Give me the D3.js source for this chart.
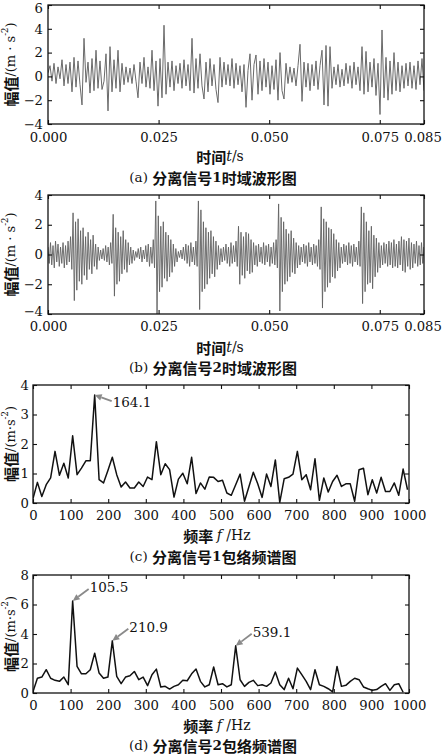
<!DOCTYPE html>
<html><head><meta charset="utf-8">
<script src="https://cdn.jsdelivr.net/npm/d3@7"></script>
<style>body{margin:0;background:#fff;} svg{display:block;}</style>
</head><body><svg id="c" width="442" height="756"></svg>
<script>
// ---------- data ----------
const signal1 = [
 0.3, 0.9, -0.4, 1.1, -0.6, 0.8, -0.2, 1.4, -0.8, 1.0,
 -0.6, 1.2, -1.3, 1.6, -0.9, 1.3, -0.7, -2.4, 3.2, -0.5,
 1.2, -1.4, 1.5, -1.2, 2.2, -1.0, 1.3, -1.1, -0.4, 1.9,
 -2.9, 2.5, -1.3, 1.4, -1.0, 2.2, -1.3, 1.1, -0.7, 0.8,
 -0.5, 0.7, -0.6, 1.0, -0.4, -1.8, 1.2, -0.6, 1.6, -0.9,
 0.8, -1.0, 2.2, -1.2, 1.3, -2.5, 1.5, -1.8, 4.3, -1.5,
 1.2, -0.9, 1.3, -1.2, 0.9, -0.6, 1.1, -1.0, 1.4, -0.8,
 1.0, -1.2, 3.2, -1.4, 1.5, -1.0, 1.9, -0.8, -1.9, 1.2,
 -1.3, 1.5, -0.8, 1.0, -1.1, -2.2, 1.6, -0.9, 1.2, -0.7,
 1.0, -0.8, 1.5, -1.0, 1.1, -0.7, 0.9, -1.3, 1.0, -2.6,
 0.5, 1.9, -2.0, 1.0, 1.8, -1.5, 1.3, -1.2, 1.5, -0.9,
 1.2, -1.5, 0.9, -1.1, 1.4, -2.0, 2.0, -1.2, -1.9, 1.1,
 -0.6, 0.8, -0.5, 0.7, -0.8, 0.9, 2.7, -2.1, 1.2, -0.9,
 1.1, -1.2, 1.0, -0.8, 1.3, -1.1, 0.9, 2.2, -2.4, 2.6,
 -2.5, 2.5, -1.0, 0.8, -0.7, 1.0, -0.9, 0.6, -0.8, 1.1,
 -0.6, 0.9, -1.0, 1.2, -0.7, 0.8, -1.2, 2.5, -1.5, 2.1,
 -1.3, 1.2, -0.9, 1.5, -1.6, 1.1, -3.2, 3.9, -1.8, 1.6,
 -2.0, 1.3, -1.5, 2.0, -1.2, 1.2, -1.3, 0.9, -1.0, 1.1,
 -0.8, 1.2, -1.0, 0.9, -1.1, 1.3, -0.7, 1.5, -1.2
];
// signal 2: successive positive / negative swings
const signal2Up = [
 0.5,0.8,0.6,0.9,0.7,0.5,0.8,0.6,0.9,1.2,
 2.8,2.2,2.4,1.6,1.8,1.2,1.5,1.0,1.3,0.7,
 0.5,0.3,0.4,0.6,0.5,0.8,2.7,1.8,1.5,1.2,
 1.6,1.0,0.8,0.5,0.3,0.2,0.4,0.5,0.3,0.6,
 0.7,0.5,1.0,3.6,2.6,1.9,2.2,1.5,1.3,1.0,
 0.7,0.4,0.2,0.3,0.5,0.7,0.6,0.8,0.5,0.9,
 3.6,3.0,2.2,1.8,1.5,1.6,1.2,0.9,0.6,0.4,
 0.5,0.7,0.5,0.8,0.6,0.9,1.9,1.5,1.2,1.5,
 1.4,1.0,0.8,0.6,0.7,0.5,0.8,0.6,0.7,0.5,
 0.8,1.0,3.4,2.5,2.2,1.7,1.4,1.6,1.1,0.8,
 0.6,0.5,0.7,0.6,0.8,0.5,0.7,0.6,1.0,3.2,
 2.4,2.2,1.8,1.7,1.4,1.0,0.8,0.5,0.7,0.6,
 0.8,0.6,0.7,0.5,0.9,3.2,2.8,2.2,1.6,1.9,
 1.3,1.1,0.8,0.6,0.8,0.7,0.9,0.8,1.0,0.7,
 0.9,1.2,1.0,0.9,1.1,0.8,0.7,0.9,0.6,0.8,
 0.5
];
const signal2Down = [
 -0.6,-0.7,-0.9,-0.5,-0.8,-0.6,-0.9,-0.7,-0.5,-1.0,
 -3.1,-2.4,-1.8,-2.0,-1.4,-1.7,-1.0,-1.3,-0.8,-1.0,
 -0.4,-0.3,-0.4,-0.5,-0.7,-0.6,-2.8,-2.0,-1.8,-1.3,
 -1.0,-1.2,-0.7,-0.6,-0.4,-0.2,-0.3,-0.5,-0.3,-0.5,
 -0.8,-0.6,-0.9,-4.0,-2.5,-2.2,-1.6,-1.8,-1.5,-1.2,
 -0.8,-0.5,-0.2,-0.3,-0.4,-0.6,-0.8,-0.5,-0.7,-0.8,
 -3.7,-2.5,-2.3,-2.0,-1.6,-1.3,-1.5,-1.0,-0.7,-0.5,
 -0.4,-0.6,-0.8,-0.6,-0.5,-0.8,-2.0,-1.4,-1.6,-1.1,
 -1.3,-1.2,-0.7,-0.8,-0.5,-0.6,-0.7,-0.5,-0.8,-0.6,
 -0.7,-0.9,-3.8,-2.5,-2.0,-1.8,-1.5,-1.2,-1.3,-0.9,
 -0.7,-0.5,-0.6,-0.8,-0.5,-0.7,-0.6,-0.8,-1.0,-3.6,
 -2.5,-2.2,-1.9,-1.5,-1.6,-1.1,-0.9,-0.6,-0.5,-0.7,
 -0.6,-0.8,-0.5,-0.7,-0.8,-3.3,-2.5,-2.0,-1.9,-2.3,
 -1.5,-1.2,-0.9,-0.7,-0.6,-0.8,-0.7,-0.9,-0.8,-0.9,
 -0.7,-1.1,-1.2,-0.8,-1.0,-0.9,-0.6,-0.8,-0.7,-0.6,
 -0.5
];
const spectrum1 = [
 0.15,0.7,0.22,0.62,0.85,1.75,0.94,1.35,0.85,2.28,
 0.96,1.18,1.43,1.43,3.66,0.79,0.68,1.1,1.55,0.96,
 0.54,0.71,0.51,0.51,0.71,0.56,0.88,0.79,2.08,0.96,
 1.33,1.13,0.2,0.81,1.01,0.65,1.55,0.32,0.68,0.47,
 0.88,0.87,0.73,0.77,0.34,0.26,0.62,0.98,0.06,0.55,
 1.04,0.65,0.19,0.98,0.56,1.46,0.02,0.82,0.87,0.98,
 1.75,0.79,0.96,0.45,1.5,0.09,0.85,0.37,0.73,0.94,
 0.56,0.65,0.65,0.06,1.13,1.18,0.28,0.79,0.34,0.87,
 0.39,0.39,0.68,0.26,1.15,0.45
];
const spectrum2 = [
 0.1,1.0,1.08,1.58,1.0,0.86,0.79,1.08,0.56,6.24,
 1.8,1.3,1.3,1.58,2.7,1.35,1.0,1.08,3.54,1.13,
 0.63,1.08,1.17,1.46,0.9,1.08,0.5,1.24,1.62,0.41,
 0.45,0.27,0.45,0.56,0.86,0.83,1.3,1.62,0.79,0.41,
 0.56,1.76,0.56,0.63,0.41,0.56,3.2,0.9,0.45,0.72,
 0.86,0.5,0.56,0.45,0.68,1.42,0.56,0.23,1.0,0.29,
 1.69,1.24,0.79,0.23,1.58,0.56,0.45,0.29,0.07,1.8,
 0.45,0.52,0.79,1.0,0.9,0.41,0.29,0.18,0.23,0.45,
 0.63,0.18,0.56,0.63,0.05
];
const freqStep = 11.71875;           // Hz per spectral line
const timeSpan = 0.085;               // s
const timeTicks = [0, 0.025, 0.05, 0.075, 0.085];
const timeTickLabels = ["0.000", "0.025", "0.050", "0.075", "0.085"];
const freqTicks = [0,100,200,300,400,500,600,700,800,900,1000];
const yTicksA = [-4,-2,0,2,4,6];
const yTicksB = [-4,-2,0,2,4];
const yTicksC = [0,1,2,3,4];
const yTicksD = [0,2,4,6,8];
const annotC = [{k:14, label:"164.1"}];
const annotD = [{k:9, label:"105.5"}, {k:18, label:"210.9"}, {k:46, label:"539.1"}];
const captions = ["(a) 分离信号1时域波形图", "(b) 分离信号2时域波形图", "(c) 分离信号1包络频谱图", "(d) 分离信号2包络频谱图"];

// ---------- drawing ----------
const svg = d3.select("#c");
const SERIF = "'DejaVu Serif', 'Liberation Serif', serif";
const CJK = "'Noto Sans CJK SC', sans-serif";
const NUM_SIZE = 13.2;
const fmtMinus = v => (v < 0 ? "−" + Math.abs(v) : String(v));

function panel(cfg, idx) {
  const {x0, x1, y0, y1} = cfg;
  const x = d3.scaleLinear().domain(cfg.xDomain).range([x0, x1]);
  const y = d3.scaleLinear().domain(cfg.yDomain).range([y1, y0]);
  const g = svg.append("g");
  const clipId = "clip" + idx;
  g.append("clipPath").attr("id", clipId).append("rect")
    .attr("x", x0).attr("y", y0).attr("width", x1 - x0).attr("height", y1 - y0);

  // series
  const line = d3.line().x(d => x(d[0])).y(d => y(d[1]));
  g.append("path").datum(cfg.points).attr("clip-path", `url(#${clipId})`)
    .attr("fill", "none").attr("stroke", cfg.color).attr("stroke-width", cfg.width)
    .attr("stroke-linejoin", "round").attr("d", line);

  // axes
  const tk = 4;
  const styleAxis = (sel) => {
    sel.select(".domain").remove();
    sel.selectAll(".tick line").attr("stroke", "#111").attr("stroke-width", 1.1);
    sel.selectAll("text").attr("font-family", SERIF).attr("font-size", NUM_SIZE).attr("fill", "#111");
  };
  const bx = g.append("g").attr("transform", `translate(0,${y1})`)
    .call(d3.axisBottom(x).tickValues(cfg.xTicks).tickSize(-tk).tickPadding(cfg.xPad)
      .tickFormat((d, i) => cfg.xLabels[i])).call(styleAxis);
  if (cfg.lastLabelDx) {
    bx.selectAll(".tick text").filter((d, i, n) => i === n.length - 1).attr("dx", cfg.lastLabelDx);
  }
  g.append("g").attr("transform", `translate(0,${y0})`)
    .call(d3.axisTop(x).tickValues(cfg.xTicks).tickSize(-tk).tickFormat("")).call(styleAxis);
  const ly = g.append("g").attr("transform", `translate(${x0},0)`)
    .call(d3.axisLeft(y).tickValues(cfg.yTicks).tickSize(-tk).tickPadding(cfg.yPad)
      .tickFormat(fmtMinus)).call(styleAxis);
  if (cfg.topLabelDy) {
    ly.selectAll(".tick text").filter(d => d === cfg.yDomain[1]).attr("dy", cfg.topLabelDy);
  }
  if (cfg.bottomLabelDy) {
    ly.selectAll(".tick text").filter(d => d === cfg.yDomain[0]).attr("dy", cfg.bottomLabelDy);
  }
  g.append("g").attr("transform", `translate(${x1},0)`)
    .call(d3.axisRight(y).tickValues(cfg.yTicks).tickSize(-tk).tickFormat("")).call(styleAxis);

  g.append("rect").attr("x", x0).attr("y", y0).attr("width", x1 - x0).attr("height", y1 - y0)
    .attr("fill", "none").attr("stroke", "#111").attr("stroke-width", 1.3);

  // y label
  const yl = g.append("text")
    .attr("transform", `translate(${cfg.yLabelX},${(y0 + y1) / 2}) rotate(-90)`)
    .attr("text-anchor", "middle").attr("dominant-baseline", "central").attr("fill", "#111");
  yl.append("tspan").attr("font-family", CJK).attr("font-size", 15).attr("font-weight", 700).text("幅值");
  yl.append("tspan").attr("font-family", SERIF).attr("font-size", 13).text(cfg.unitText);
  yl.append("tspan").attr("font-family", SERIF).attr("font-size", 8.5).attr("dy", -5).text("-2");
  yl.append("tspan").attr("font-family", SERIF).attr("font-size", 13).attr("dy", 5).text(")");

  // x title
  const xt = g.append("text").attr("x", (x0 + x1) / 2 + cfg.xTitleShift).attr("y", cfg.xTitleY)
    .attr("text-anchor", "middle").attr("dominant-baseline", "central").attr("fill", "#111");
  xt.append("tspan").attr("font-family", CJK).attr("font-size", 15).attr("font-weight", 700).text(cfg.xTitle[0]);
  xt.append("tspan").attr("font-family", SERIF).attr("font-size", 14).attr("font-style", "italic").text(cfg.xTitle[1]);
  xt.append("tspan").attr("font-family", SERIF).attr("font-size", 14).text(cfg.xTitle[2]);

  // caption
  const cap = captions[idx];
  const ct = g.append("text").attr("x", cfg.captionX).attr("y", cfg.captionY)
    .attr("text-anchor", "middle").attr("dominant-baseline", "central").attr("fill", "#111");
  ct.append("tspan").attr("font-family", SERIF).attr("font-size", 13.5).text(cap.slice(0, 4));
  const rest = cap.slice(4);
  const m = rest.match(/^(\D+)(\d)(\D+)$/);
  ct.append("tspan").attr("font-family", CJK).attr("font-size", 15).attr("font-weight", 700).text(m[1]);
  ct.append("tspan").attr("font-family", SERIF).attr("font-size", 13.5).attr("font-weight", 700).text(m[2]);
  ct.append("tspan").attr("font-family", CJK).attr("font-size", 15).attr("font-weight", 700).text(m[3]);

  // annotations
  (cfg.annots || []).forEach(a => {
    const v = cfg.values[a.k];
    const px = x(a.k * freqStep), py = y(v);
    const tx = px + cfg.arrowDx, ty = py + cfg.arrowDy;
    const ang = Math.atan2(py - ty, px - tx);
    const hl = 7, hw = 3.2;
    const bx2 = px - hl * Math.cos(ang), by2 = py - hl * Math.sin(ang);
    g.append("line").attr("x1", tx).attr("y1", ty).attr("x2", bx2).attr("y2", by2)
      .attr("stroke", "#8a8a8a").attr("stroke-width", 1.8);
    g.append("path").attr("fill", "#8a8a8a").attr("d",
      `M${px},${py} L${bx2 + hw * Math.sin(ang)},${by2 - hw * Math.cos(ang)} L${bx2 - hw * Math.sin(ang)},${by2 + hw * Math.cos(ang)} Z`);
    g.append("text").attr("x", tx + 1).attr("y", ty + cfg.labelDy)
      .attr("dominant-baseline", "central").attr("font-family", SERIF).attr("font-size", 13.5)
      .attr("fill", "#111").text(a.label);
  });
}

const pts1 = signal1.map((v, i) => [i * timeSpan / (signal1.length - 1), v]);
const n2 = signal2Up.length - 1;
const pts2 = [];
signal2Up.forEach((v, i) => {
  pts2.push([i * timeSpan / n2, v]);
  pts2.push([(i + 0.5) * timeSpan / n2, signal2Down[i]]);
});
const ptsC = spectrum1.map((v, k) => [k * freqStep, v]);
const ptsD = spectrum2.map((v, k) => [k * freqStep, v]);

const timeTitle = ["时间", "t", "/s"];
const freqTitle = ["频率 ", "f", " /Hz"];

panel({x0:48, x1:424, y0:5, y1:124, xDomain:[0, timeSpan], yDomain:[-4, 6],
  xTicks:timeTicks, xLabels:timeTickLabels, yTicks:yTicksA, xPad:9, yPad:5,
  points:pts1, color:"#6a6a6a", width:1, yLabelX:10, unitText:"/(m · s",
  xTitle:timeTitle, xTitleY:156, xTitleShift:-16, captionX:213, captionY:177,
  lastLabelDx:-1.5, topLabelDy:"0.6em"}, 0);
panel({x0:48, x1:424, y0:195, y1:314, xDomain:[0, timeSpan], yDomain:[-4, 4],
  xTicks:timeTicks, xLabels:timeTickLabels, yTicks:yTicksB, xPad:8, yPad:5,
  points:pts2, color:"#626262", width:0.9, yLabelX:10, unitText:"/(m · s",
  xTitle:timeTitle, xTitleY:347, xTitleShift:-16, captionX:213, captionY:367,
  lastLabelDx:-1.5, bottomLabelDy:"0.1em"}, 1);
panel({x0:33, x1:409, y0:385, y1:503, xDomain:[0, 1000], yDomain:[0, 4],
  xTicks:freqTicks, xLabels:freqTicks.map(String), yTicks:yTicksC, xPad:8, yPad:4,
  points:ptsC, values:spectrum1, color:"#111", width:1.5, yLabelX:10, unitText:"/(m·s",
  xTitle:freqTitle, xTitleY:535, xTitleShift:-4, captionX:213, captionY:556,
  annots:annotC, arrowDx:17, arrowDy:6, labelDy:1}, 2);
panel({x0:33, x1:409, y0:575, y1:693, xDomain:[0, 1000], yDomain:[0, 8],
  xTicks:freqTicks, xLabels:freqTicks.map(String), yTicks:yTicksD, xPad:8, yPad:4,
  points:ptsD, values:spectrum2, color:"#111", width:1.5, yLabelX:10, unitText:"/(m·s",
  xTitle:freqTitle, xTitleY:725, xTitleShift:-4, captionX:213, captionY:745,
  annots:annotD, arrowDx:16, arrowDy:-12, labelDy:-2}, 3);
</script></body></html>
